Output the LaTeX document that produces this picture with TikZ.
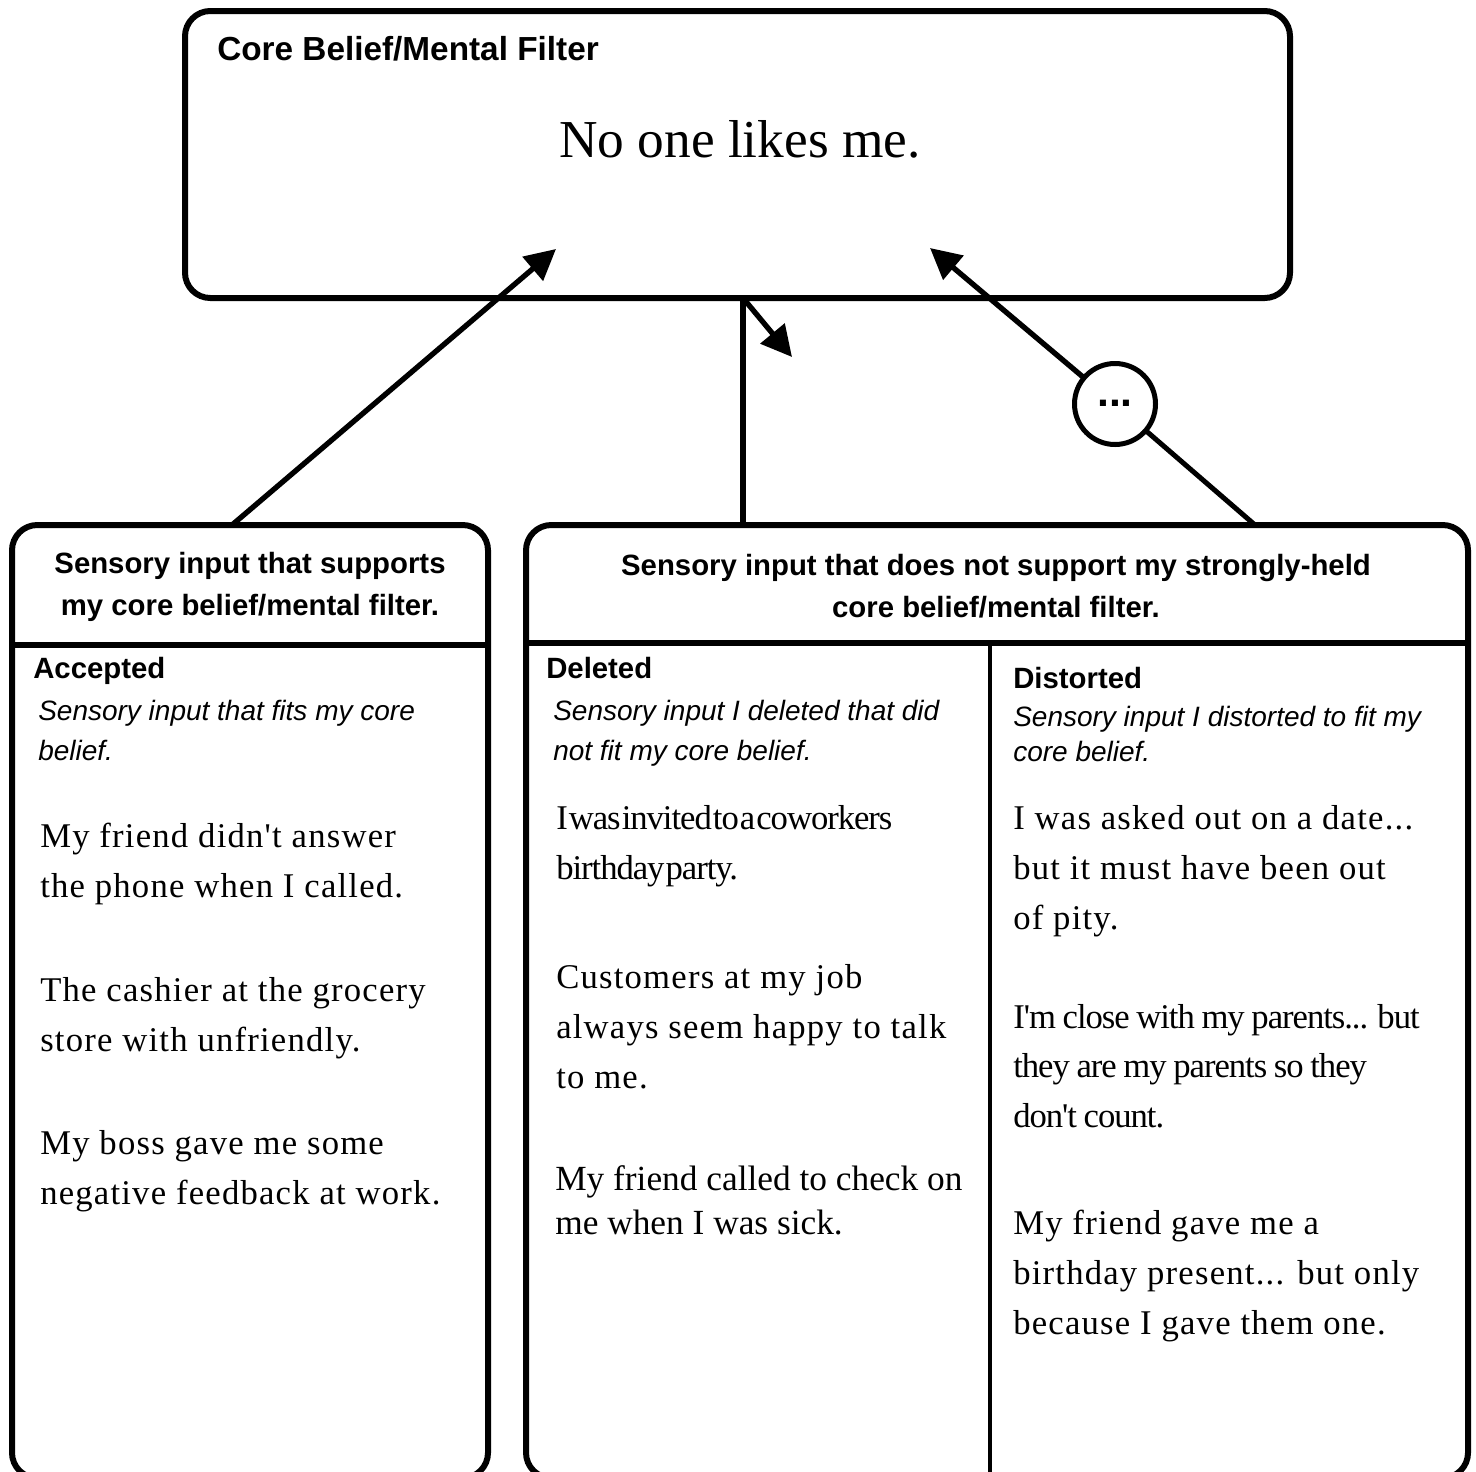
\documentclass[tikz,border=0pt]{standalone}
\usepackage{fontspec}
\setmainfont{Liberation Serif}
\setsansfont{Liberation Sans}
\newfontfamily\spacedserif[LetterSpace=3.5]{Liberation Serif}
\newfontfamily\closeserif[LetterSpace=-3]{Liberation Serif}
\newfontfamily\tightserif[LetterSpace=-3]{Liberation Serif}
\newcommand\tightwords{\spaceskip 0.8pt\relax}
\newcommand\closewords{\spaceskip 5pt\relax}
\usetikzlibrary{arrows.meta}

\tikzset{
  roundbox/.style={draw, line width=4.5pt, rounded corners=19pt, rectangle, inner sep=0pt, outer sep=0pt},
  pointer/.style={line width=4pt, -{Triangle[length=23pt,width=23pt]}},
  bodytext/.style={anchor=north west, inner sep=0pt, align=left, font=\fontsize{26}{37.5}\selectfont},
  desctext/.style={anchor=north west, inner sep=0pt, align=left, font=\sffamily\itshape\fontsize{21}{30}\selectfont},
  subhead/.style={anchor=north west, inner sep=0pt, font=\sffamily\bfseries\fontsize{22}{26}\selectfont},
  headtext/.style={inner sep=0pt, align=center, font=\sffamily\bfseries\fontsize{22}{31.5}\selectfont},
}

\begin{document}
\begin{tikzpicture}[x=0.75pt,y=0.75pt,yscale=-1,xscale=1]
\useasboundingbox (0,0) rectangle (1476,1471);

%Rounded Rect [core belief]
\node [roundbox, minimum width=828.75pt, minimum height=215.25pt] (core) at (737.5,154.5) {};
%Rounded Rect [supports]
\node [roundbox, minimum width=357pt, minimum height=714.75pt] (lbox) at (250,1001.5) {};
%Rounded Rect [does not support]
\node [roundbox, minimum width=706.5pt, minimum height=714.75pt] (rbox) at (997,1001.5) {};

%Straight Lines [dividers]
\draw [line width=4.5pt] (12,645) -- (488,645) ;
\draw [line width=4.5pt] (526,643) -- (1468,643) ;
\draw [line width=3.5pt] (990,643) -- (990,1480) ;

%Straight Lines [left arrow]
\coordinate (lfoot) at (232,525);
\coordinate (ltip) at (556,249);
\draw [pointer] (lfoot) -- (ltip) ;
%Straight Lines [middle]
\coordinate (mfoot) at (743,525);
\coordinate (mtop) at (743,298);
\coordinate (mtip) at (792,357);
\draw [line width=4pt] (mfoot) -- (mtop) ;
\draw [pointer] (mtop) -- (mtip) ;
%Straight Lines [right arrow]
\node [circle, draw, line width=3.75pt, minimum size=60.75pt, inner sep=0pt, outer sep=0pt, font=\sffamily\bfseries\fontsize{32}{32}\selectfont] (etc) at (1115,404) {\smash{\raisebox{-2.1pt}{...}}};
\coordinate (rfoot) at (1255,525);
\coordinate (rtip) at (930,248);
\draw [line width=3.75pt] (rfoot) -- (etc) ;
\draw [pointer] (etc) -- (rtip) ;

% Text Node
\draw (217,36) node [subhead, font=\sffamily\bfseries\fontsize{25}{30}\selectfont] (coretitle) {Core Belief/Mental Filter};
% Text Node
\draw (740,157) node [anchor=base, inner sep=0pt, font=\fontsize{40}{48}\selectfont] (belief) {No one likes me.};

% Text Node
\draw (250,587) node [headtext] (lhead) {Sensory input that supports\\my core belief/mental filter.};
% Text Node
\draw (996,586) node [headtext] (rhead) {Sensory input that does not support my strongly-held\\core belief/mental filter.};

% Text Node
\draw (33,657) node [subhead] (accepted) {Accepted};
% Text Node
\draw (38,700) node [desctext] (acceptdesc) {Sensory input that fits my core\\belief.};
% Text Node
\draw (40,823) node [bodytext, font=\spacedserif\fontsize{26}{37.5}\selectfont] (accept1) {My friend didn't answer\\the phone when I called.};
% Text Node
\draw (40,977) node [bodytext, font=\spacedserif\fontsize{26}{37.5}\selectfont] (accept2) {The cashier at the grocery\\store with unfriendly.};
% Text Node
\draw (40,1130) node [bodytext, font=\spacedserif\fontsize{26}{37.5}\selectfont] (accept3) {My boss gave me some\\negative feedback at work.};

% Text Node
\draw (546,657) node [subhead] (deleted) {Deleted};
% Text Node
\draw (553,700) node [desctext] (deletedesc) {Sensory input I deleted that did\\not fit my core belief.};
% Text Node
\draw (556,805) node [bodytext, font=\tightserif\fontsize{26}{37.5}\selectfont\tightwords] (delete1) {I was invited to a coworkers\\birthday party.};
% Text Node
\draw (556,964) node [bodytext, font=\spacedserif\fontsize{26}{37.5}\selectfont] (delete2) {Customers at my job\\always seem happy to talk\\to me.};
% Text Node
\draw (555,1165) node [bodytext, font=\fontsize{26.5}{33}\selectfont] (delete3) {My friend called to check on\\me when I was sick.};

% Text Node
\draw (1013,667) node [subhead] (distorted) {Distorted};
% Text Node
\draw (1013,706) node [desctext, font=\sffamily\itshape\fontsize{21}{26.5}\selectfont] (distortdesc) {Sensory input I distorted to fit my\\core belief.};
% Text Node
\draw (1013,805) node [bodytext, font=\spacedserif\fontsize{26}{37.5}\selectfont] (distort1) {I was asked out on a date...\\but it must have been out\\of pity.};
% Text Node
\draw (1013,1004) node [bodytext, font=\closeserif\fontsize{26}{37}\selectfont\closewords] (distort2) {I'm close with my parents... but\\they are my parents so they\\don't count.};
% Text Node
\draw (1013,1210) node [bodytext, font=\spacedserif\fontsize{26}{37.5}\selectfont] (distort3) {My friend gave me a\\birthday present... but only\\because I gave them one.};

\end{tikzpicture}
\end{document}
